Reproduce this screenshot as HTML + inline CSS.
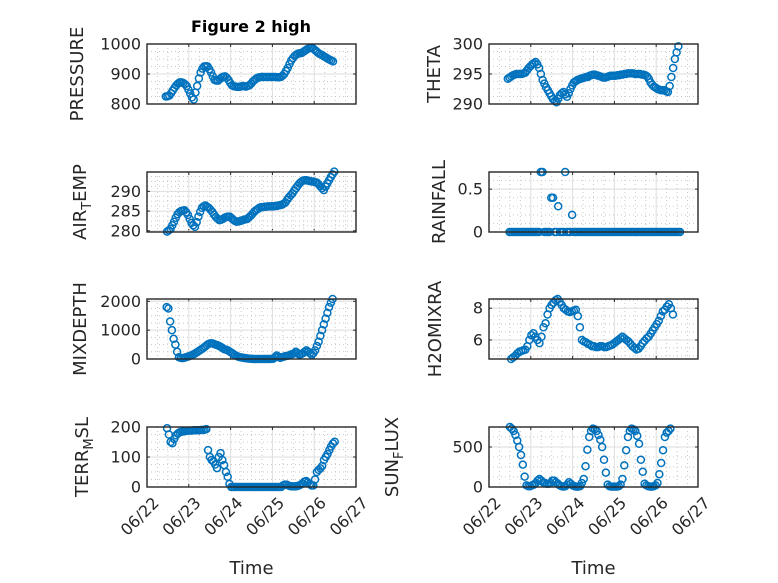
<!DOCTYPE html>
<html><head><meta charset="utf-8">
<style>
html,body{margin:0;padding:0;background:#fff;}
svg{display:block;font-family:"DejaVu Sans","Liberation Sans",sans-serif;}
</style></head>
<body>
<svg id="fig" width="778" height="583" viewBox="0 0 778 583" xmlns="http://www.w3.org/2000/svg">
<rect x="0" y="0" width="778" height="583" fill="#fff"/>
<text x="251" y="32" text-anchor="middle" font-size="16" font-weight="bold" fill="#000">Figure 2 high</text>
</svg>
<script>
// ---- data (days since 06/22 00:00) ----
const dayTicks = [0,1,2,3,4,5];
const dayTickLabels = ["06/22","06/23","06/24","06/25","06/26","06/27"];

const pressureTime = [0.45, 4.45];
const pressureVals = [825,826,828,836,845,854,862,868,872,872,870,866,860,848,835,822,815,838,860,885,905,918,925,926,925,916,905,892,880,878,878,883,888,891,892,887,880,870,862,859,858,857,857,858,860,859,858,860,862,868,875,880,885,888,889,890,890,890,890,890,890,890,890,890,889,889,890,894,900,910,920,933,945,953,960,965,968,969,970,974,978,982,985,987,988,983,978,973,968,965,962,958,955,951,948,945,942];

const thetaTime = [0.45, 4.53];
const thetaVals = [294.2,294.4,294.6,294.8,294.9,295.0,295.0,295.0,295.0,295.1,295.2,295.6,296.0,296.3,296.6,296.8,297.0,296.6,296.0,295.0,294.0,293.4,292.8,292.3,291.8,291.3,290.8,290.5,290.3,290.9,291.5,291.8,292.0,291.6,291.2,291.8,292.5,293.1,293.6,293.8,294.0,294.1,294.2,294.3,294.4,294.5,294.5,294.7,294.8,294.9,294.9,294.8,294.7,294.6,294.5,294.4,294.4,294.5,294.6,294.7,294.7,294.7,294.7,294.8,294.8,294.9,294.9,295.0,295.0,295.1,295.1,295.1,295.1,295.0,295.0,295.0,295.0,294.9,294.9,294.8,294.6,294.2,293.6,293.2,292.9,292.7,292.5,292.4,292.3,292.3,292.3,292.1,292.0,293.0,294.5,296.0,297.5,298.6,299.6];

const airTime = [0.48, 4.48];
const airVals = [279.8,280.1,280.5,281.4,282.3,283.3,284.2,284.7,285.0,285.1,285.2,284.7,284.0,283.0,282.0,281.4,281.0,282.2,283.6,284.8,285.8,286.2,286.4,286.1,285.8,285.3,284.8,284.1,283.5,283.1,282.7,282.8,283.0,283.3,283.5,283.6,283.6,283.2,282.8,282.5,282.3,282.4,282.5,282.6,282.8,282.9,283.0,283.4,283.8,284.3,284.8,285.2,285.5,285.8,286.0,286.0,286.1,286.1,286.2,286.2,286.2,286.2,286.3,286.3,286.4,286.5,286.6,286.9,287.2,287.9,288.5,289.0,289.5,290.2,290.8,291.4,292.0,292.4,292.7,292.8,292.8,292.7,292.6,292.5,292.5,292.3,292.2,291.8,291.3,290.8,290.3,291.2,292.0,292.8,293.6,294.3,295.0];

const rainTime = [0.49, 4.57];
const rainVals = [0,0,0,0,0,0,0,0,0,0,0,0,0,0,0,0,0,0,0.7,0.7,0,0,0,0,0.4,0.4,0,0,0.3,0,0,0,0.7,0,0,0,0.2,0,0,0,0,0,0,0,0,0,0,0,0,0,0,0,0,0,0,0,0,0,0,0,0,0,0,0,0,0,0,0,0,0,0,0,0,0,0,0,0,0,0,0,0,0,0,0,0,0,0,0,0,0,0,0,0,0,0,0,0,0,0];

const mixTime = [0.47, 4.44];
const mixVals = [1800,1750,1300,1000,700,500,250,60,40,30,40,60,80,100,120,150,180,220,260,300,340,380,430,480,520,540,540,520,500,480,450,420,380,340,320,300,260,220,180,140,110,80,60,50,40,30,20,15,10,5,0,0,0,0,0,0,0,0,0,0,5,10,60,120,80,40,60,80,100,110,120,150,170,200,250,200,150,170,200,250,300,250,200,150,200,300,450,600,800,1000,1200,1400,1600,1800,1950,2080];

const h2oTime = [0.53, 4.40];
const h2oVals = [4.8,4.9,5.0,5.15,5.26,5.3,5.35,5.38,5.6,6.0,6.3,6.42,6.2,6.0,5.8,6.2,6.8,7.05,7.6,8.0,8.2,8.35,8.5,8.58,8.4,8.2,8.0,7.9,7.8,7.75,7.8,7.85,7.9,7.5,6.8,6.0,5.9,5.85,5.75,5.7,5.6,5.6,5.55,5.55,5.6,5.6,5.55,5.55,5.6,5.65,5.7,5.8,5.9,6.0,6.1,6.2,6.1,6.0,5.9,5.75,5.6,5.5,5.4,5.45,5.6,5.8,5.95,6.1,6.2,6.4,6.6,6.8,7.0,7.2,7.5,7.8,7.9,8.1,8.25,8.0,7.6];

const terrTime = [0.48, 4.49];
const terrVals = [196,175,150,146,160,172,178,182,184,185,186,187,188,188,188,189,189,189,189,190,190,191,193,123,100,90,85,75,63,100,113,90,73,50,34,10,0,0,0,0,0,0,0,0,0,0,0,0,0,0,0,0,0,0,0,0,0,0,0,0,0,0,0,0,0,5,8,8,5,3,2,2,2,3,5,8,12,18,20,15,10,5,5,25,50,57,62,70,90,100,110,123,135,145,151];

const sunTime = [0.5, 4.34];
const sunVals = [750,730,700,650,580,500,400,280,130,20,10,10,20,30,50,80,100,80,60,50,40,40,50,80,80,60,40,20,10,5,10,30,60,40,20,10,5,5,10,50,100,260,466,625,700,729,720,700,650,590,500,340,180,30,10,5,5,5,5,10,30,100,270,460,625,700,730,720,700,640,540,340,190,40,20,10,5,5,10,20,50,160,300,460,625,680,700,730];

const pressureTicks = [800,900,1000];
const thetaTicks = [290,295,300];
const airTicks = [280,285,290];
const rainTicks = [0,0.5];
const mixTicks = [0,1000,2000];
const h2oTicks = [6,8];
const terrTicks = [0,100,200];
const sunTicks = [0,500];

// ---- layout ----
const NS = "http://www.w3.org/2000/svg";
const svg = document.getElementById('fig');
const colX = [147, 489];
const rowY = [44, 172, 299, 427];
const W = 209, H = 60;
const XMIN = 0, XMAX = 5;

function mk(tag, attrs, parent){
  const e = document.createElementNS(NS, tag);
  for (const k in attrs) e.setAttribute(k, attrs[k]);
  (parent||svg).appendChild(e);
  return e;
}

function panel(cfg){
  const x0 = colX[cfg.col], y0 = rowY[cfg.row];
  const g = mk('g', {});
  
  
  const sx = v => x0 + (v - XMIN) / (XMAX - XMIN) * W;
  const sy = v => y0 + H - (v - cfg.ymin) / (cfg.ymax - cfg.ymin) * H;
  mk('rect', {x:x0, y:y0, width:W, height:H, fill:'#fff'}, g);
  for (let d = 0; d < 5; d++) for (let q = 1; q < 4; q++){
    const xx = sx(d + q/4);
    mk('line', {x1:xx, x2:xx, y1:y0, y2:y0+H, stroke:'#c8c8c8', 'stroke-width':1, 'stroke-dasharray':'1,3'}, g);
  }
  const step = cfg.minor;
  for (let v = Math.ceil(cfg.ymin/step)*step; v <= cfg.ymax; v += step){
    const yy = sy(v);
    if (yy <= y0 + 0.5 || yy >= y0 + H - 0.5) continue;
    mk('line', {x1:x0, x2:x0+W, y1:yy, y2:yy, stroke:'#c8c8c8', 'stroke-width':1, 'stroke-dasharray':'1,3'}, g);
  }
  dayTicks.forEach(d => {
    const xx = sx(d);
    mk('line', {x1:xx, x2:xx, y1:y0, y2:y0+H, stroke:'#dedede', 'stroke-width':1}, g);
    mk('line', {x1:xx, x2:xx, y1:y0+H, y2:y0+H-3, stroke:'#262626', 'stroke-width':1}, g);
    mk('line', {x1:xx, x2:xx, y1:y0, y2:y0+3, stroke:'#262626', 'stroke-width':1}, g);
  });
  cfg.ticks.forEach(v => {
    const yy = sy(v);
    mk('line', {x1:x0, x2:x0+W, y1:yy, y2:yy, stroke:'#dedede', 'stroke-width':1}, g);
    mk('line', {x1:x0, x2:x0+3, y1:yy, y2:yy, stroke:'#262626', 'stroke-width':1}, g);
    mk('line', {x1:x0+W, x2:x0+W-3, y1:yy, y2:yy, stroke:'#262626', 'stroke-width':1}, g);
    const t = mk('text', {x:x0-6, y:yy+5.5, 'text-anchor':'end', 'font-size':16, fill:'#262626'}, g);
    t.textContent = String(v);
    
    
  });
  const n = cfg.vals.length;
  const t0 = cfg.time[0], t1 = cfg.time[1];
  cfg.vals.forEach((v, i) => {
    const tt = t0 + (t1 - t0) * i / (n - 1);
    const c = mk('circle', {cx:sx(tt), cy:sy(v), r:3.5, fill:'none', stroke:'#0072BD', 'stroke-width':1.5}, g);
    
    
  });
  const b = mk('rect', {x:x0, y:y0, width:W, height:H, fill:'none', stroke:'#262626', 'stroke-width':1.4}, g);
  
  
  const lab = mk('text', {transform:`translate(${cfg.lx},${y0+H/2}) rotate(-90)`, 'text-anchor':'middle', 'font-size':18, fill:'#262626'}, g);
  
  
  cfg.label.forEach(p => {
    const s = mk('tspan', {}, lab);
    s.textContent = p[0];
    if (p[1] === 'sub'){ s.setAttribute('font-size', 13); s.setAttribute('dy', 5); }
    else if (p[1] === 'back'){ s.setAttribute('dy', -5); }
  });
  if (cfg.row === 3){
    dayTicks.forEach((d, i) => {
      const xx = sx(d);
      const t = mk('text', {transform:`translate(${xx+5},${y0+H+9}) rotate(-45)`, 'text-anchor':'end', 'font-size':16, fill:'#262626', dy:'0.7em'}, g);
      t.textContent = dayTickLabels[i];
      
      
    });
    const tl = mk('text', {x:x0+W/2, y:574, 'text-anchor':'middle', 'font-size':18, fill:'#262626'}, g);
    tl.textContent = 'Time';
    
    
  }
}

panel({name:'pressure', col:0, row:0, ymin:800, ymax:1000, ticks:pressureTicks, minor:25, time:pressureTime, vals:pressureVals, lx:83, label:[['PRESSURE']]});
panel({name:'theta', col:1, row:0, ymin:290, ymax:300, ticks:thetaTicks, minor:1.25, time:thetaTime, vals:thetaVals, lx:440, label:[['THETA']]});
panel({name:'air-temp', col:0, row:1, ymin:279.7, ymax:294.9, ticks:airTicks, minor:1.25, time:airTime, vals:airVals, lx:86, label:[['AIR'],['T','sub'],['EMP','back']]});
panel({name:'rainfall', col:1, row:1, ymin:0, ymax:0.7, ticks:rainTicks, minor:0.1, time:rainTime, vals:rainVals, lx:445, label:[['RAINFALL']]});
panel({name:'mixdepth', col:0, row:2, ymin:0, ymax:2080, ticks:mixTicks, minor:250, time:mixTime, vals:mixVals, lx:86, label:[['MIXDEPTH']]});
panel({name:'h2omixra', col:1, row:2, ymin:4.8, ymax:8.58, ticks:h2oTicks, minor:0.5, time:h2oTime, vals:h2oVals, lx:441, label:[['H2OMIXRA']]});
panel({name:'terr-msl', col:0, row:3, ymin:0, ymax:200, ticks:terrTicks, minor:25, time:terrTime, vals:terrVals, lx:88, label:[['TERR'],['M','sub'],['SL','back']]});
panel({name:'sun-flux', col:1, row:3, ymin:0, ymax:750, ticks:sunTicks, minor:125, time:sunTime, vals:sunVals, lx:398, label:[['SUN'],['F','sub'],['LUX','back']]});
</script>
</body></html>
